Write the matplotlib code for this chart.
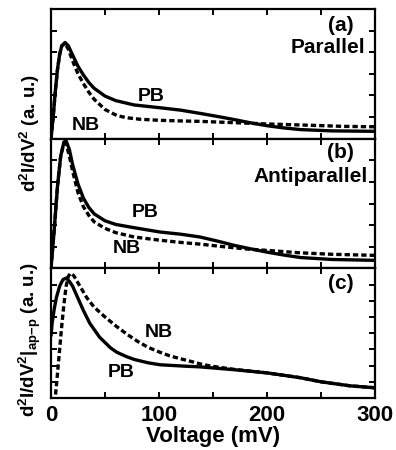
import matplotlib
matplotlib.use("Agg")
import matplotlib.pyplot as plt

plt.rcParams['font.family'] = ['Liberation Sans', 'DejaVu Sans']
plt.rcParams['font.weight'] = 'bold'
plt.rcParams['mathtext.fontset'] = 'custom'
plt.rcParams['mathtext.rm'] = 'Liberation Sans:bold'
plt.rcParams['mathtext.bf'] = 'Liberation Sans:bold'
plt.rcParams['mathtext.it'] = 'Liberation Sans:bold'
plt.rcParams['mathtext.default'] = 'rm'

# ---- data: panel (a) Parallel ----
a_pb_v = [0, 2, 4, 6, 8, 10, 13, 16, 20, 25, 30, 35, 40, 50, 60, 77, 101, 120, 138, 155, 169, 185, 200, 215, 231, 260, 300]
a_pb_y = [0, 1.0, 2.2, 3.2, 3.9, 4.3, 4.45, 4.3, 3.87, 3.35, 2.95, 2.6, 2.33, 1.97, 1.76, 1.56, 1.43, 1.32, 1.17, 1.02, 0.89, 0.73, 0.6, 0.5, 0.42, 0.36, 0.34]
a_nb_v = [0, 2, 4, 6, 8, 10, 13, 16, 20, 25, 30, 35, 40, 50, 61, 70, 82, 100, 120, 138, 170, 200, 240, 270, 300]
a_nb_y = [0, 1.0, 2.2, 3.2, 3.9, 4.3, 4.4, 4.15, 3.6, 3.0, 2.55, 2.15, 1.82, 1.35, 1.07, 0.97, 0.9, 0.85, 0.82, 0.8, 0.74, 0.68, 0.62, 0.57, 0.55]

# ---- data: panel (b) Antiparallel ----
b_pb_v = [0, 3, 6, 9, 12, 14, 17, 20, 25, 30, 35, 40, 50, 60, 77, 101, 120, 138, 155, 169, 185, 200, 215, 231, 260, 300]
b_pb_y = [0, 1.8, 3.8, 5.2, 5.85, 5.9, 5.5, 4.8, 3.9, 3.25, 2.82, 2.52, 2.2, 2.03, 1.88, 1.68, 1.58, 1.45, 1.25, 1.07, 0.9, 0.75, 0.62, 0.5, 0.41, 0.37]
b_nb_v = [0, 3, 6, 9, 12, 14, 17, 20, 25, 30, 35, 40, 50, 60, 77, 101, 120, 138, 160, 180, 200, 230, 260, 300]
b_nb_y = [0, 1.8, 3.8, 5.2, 5.8, 5.75, 5.2, 4.5, 3.5, 2.85, 2.45, 2.15, 1.85, 1.65, 1.45, 1.3, 1.2, 1.12, 1.0, 0.9, 0.83, 0.72, 0.65, 0.6]

# ---- data: panel (c) difference ap-p ----
c_pb_v = [0, 1, 3, 5, 8, 11, 14, 17, 20, 25, 30, 36, 45, 55, 61, 70, 77, 90, 101, 125, 138, 169, 200, 231, 250, 277, 300]
c_pb_y = [3.8, 4.6, 5.5, 6.2, 6.9, 7.3, 7.4, 7.2, 6.9, 6.15, 5.4, 4.6, 3.75, 3.1, 2.82, 2.55, 2.38, 2.17, 2.05, 1.96, 1.92, 1.75, 1.55, 1.25, 1.0, 0.75, 0.63]
c_nb_v = [3.5, 6, 8, 10, 12, 14, 16, 18, 21, 25, 33, 40, 50, 60, 70, 80, 90, 101, 110, 120, 130, 140, 150, 169, 200, 231, 250, 277, 300]
c_nb_y = [-0.3, 1.5, 3.0, 4.5, 5.8, 6.9, 7.5, 7.7, 7.55, 7.1, 6.2, 5.6, 5.0, 4.45, 3.95, 3.5, 3.12, 2.82, 2.6, 2.42, 2.25, 2.07, 1.95, 1.77, 1.55, 1.25, 1.0, 0.75, 0.63]

xticks_major = [0, 100, 200, 300]
xticks_minor = [50, 150, 250]

fig = plt.figure(figsize=(3.96, 4.5), dpi=100)
L, R, B, T = 51/396, 375/396, 1-398/450, 1-9/450
h = (T - B) / 3
axes = [fig.add_axes([L, B + (2 - i) * h, R - L, h]) for i in range(3)]

lw = 2.4
dash = (1.6, 0.9)

panels = [
    (a_pb_v, a_pb_y, a_nb_v, a_nb_y, 6),
    (b_pb_v, b_pb_y, b_nb_v, b_nb_y, 6),
    (c_pb_v, c_pb_y, c_nb_v, c_nb_y, 8),
]

for ax, (pv, py, nv, ny, ymax) in zip(axes, panels):
    ax.plot(pv, py, color='black', lw=lw, solid_capstyle='butt', solid_joinstyle='round')
    ax.plot(nv, ny, color='black', lw=lw, linestyle=(0, dash))
    ax.set_xlim(0, 300)
    ax.set_ylim(0, ymax)
    ax.set_yticks(range(1, ymax))
    ax.set_yticklabels([])
    ax.set_xticks(xticks_major)
    ax.set_xticks(xticks_minor, minor=True)
    ax.tick_params(which='both', direction='in', top=True, right=True,
                   length=4, width=1.4)
    for s in ax.spines.values():
        s.set_linewidth(1.6)

for ax in axes[:2]:
    ax.set_xticklabels([])

axes[2].set_xticklabels([str(t) for t in xticks_major], fontsize=16, fontweight='bold')
axes[2].tick_params(axis='x', pad=5)
axes[2].set_xlabel('Voltage (mV)', fontsize=16, fontweight='bold', labelpad=0)

fs_p = 15
fs_l = 14
axes[0].text(280, 5.25, '(a)', ha='right', va='center', fontsize=fs_p, fontweight='bold')
axes[0].text(291, 4.2, 'Parallel', ha='right', va='center', fontsize=fs_p, fontweight='bold')
axes[0].text(92.6, 1.94, 'PB', ha='center', va='center', fontsize=fs_l, fontweight='bold')
axes[0].text(32.4, 0.6, 'NB', ha='center', va='center', fontsize=fs_l, fontweight='bold')

axes[1].text(280, 5.35, '(b)', ha='right', va='center', fontsize=fs_p, fontweight='bold')
axes[1].text(293.5, 4.23, 'Antiparallel', ha='right', va='center', fontsize=fs_p, fontweight='bold')
axes[1].text(87, 2.6, 'PB', ha='center', va='center', fontsize=fs_l, fontweight='bold')
axes[1].text(70, 0.93, 'NB', ha='center', va='center', fontsize=fs_l, fontweight='bold')

axes[2].text(280, 7.06, '(c)', ha='right', va='center', fontsize=fs_p, fontweight='bold')
axes[2].text(100, 4.06, 'NB', ha='center', va='center', fontsize=fs_l, fontweight='bold')
axes[2].text(65, 1.6, 'PB', ha='center', va='center', fontsize=fs_l, fontweight='bold')

fig.text(30/396, 1-133/450, r'd$^2$I/dV$^2$ (a. u.)', rotation=90,
         ha='center', va='center', fontsize=13.5, fontweight='bold')
fig.text(30/396, 1-340/450, r'd$^2$I/dV$^2$|$_{ap\mathrm{-}p}$ (a. u.)', rotation=90,
         ha='center', va='center', fontsize=13.5, fontweight='bold')

fig.savefig('out.png', dpi=100)
